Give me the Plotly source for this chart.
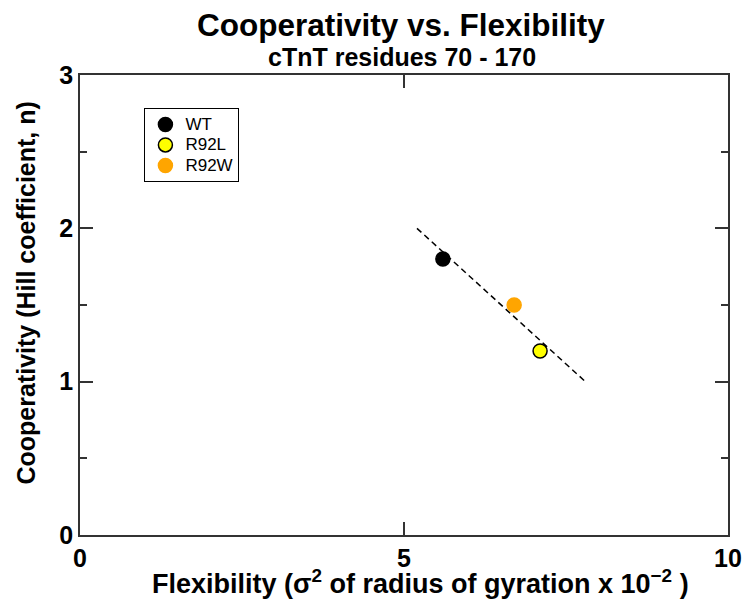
import plotly.graph_objects as go

# Data
series_names = ["WT", "R92L", "R92W"]
flex_x = [5.6, 7.1, 6.7]
coop_y = [1.8, 1.2, 1.5]
fill_colors = ["black", "yellow", "orange"]
edge_colors = ["black", "black", "orange"]

fit_x = [5.2, 7.8]
fit_y = [2.0, 1.0]

x_ticks = [0, 5, 10]
y_ticks = [0, 1, 2, 3]

title_text = "Cooperativity vs. Flexibility"
subtitle_text = "cTnT residues 70 - 170"
x_title = "Flexibility (σ<sup>2</sup> of radius of gyration x 10<sup>−2</sup> )"
y_title = "Cooperativity (Hill coefficient, n)"

FONT = "Liberation Sans, Arial, Helvetica, sans-serif"
AX = "#333"

fig = go.Figure()

fig.add_trace(go.Scatter(
    x=fit_x, y=fit_y, mode="lines",
    line=dict(color="black", width=1.5, dash="6px,4px"),
    showlegend=False, hoverinfo="skip"))

for name, x, y, fc, ec in zip(series_names, flex_x, coop_y, fill_colors, edge_colors):
    fig.add_trace(go.Scatter(
        x=[x], y=[y], mode="markers",
        name="<span style='font-size:17px'>" + name + "</span>",
        marker=dict(size=14, color=fc, line=dict(color=ec, width=1.5))))

# page has an 8px body margin: figure is shifted by 8px
W, H = 746, 597
ML, MT, MR, MB = 72, 67, 20, 70

fig.update_layout(
    width=W, height=H,
    margin=dict(l=ML, r=MR, t=MT, b=MB),
    paper_bgcolor="white", plot_bgcolor="white",
    font=dict(family=FONT, color="black"),
    legend=dict(
        x=0.0994, y=0.928, xanchor="left", yanchor="top",
        bordercolor="black", borderwidth=1, bgcolor="white",
        font=dict(size=13.5, family=FONT),
        tracegroupgap=0),
    showlegend=True,
)

fig.add_annotation(text="<b>" + title_text + "</b>", xref="paper", yref="paper",
                   x=0.496, y=1.109, xanchor="center", yanchor="middle",
                   showarrow=False, font=dict(size=31.5, family=FONT))
fig.add_annotation(text="<b>" + subtitle_text + "</b>", xref="paper", yref="paper",
                   x=0.497, y=1.040, xanchor="center", yanchor="middle",
                   showarrow=False, font=dict(size=25, family=FONT))
fig.add_annotation(text="<b>" + x_title + "</b>", xref="paper", yref="paper",
                   x=0.525, y=-0.102, xanchor="center", yanchor="middle",
                   showarrow=False, font=dict(size=27, family=FONT))
fig.add_annotation(text="<b>" + y_title + "</b>", xref="paper", yref="paper",
                   x=-0.0826, y=0.526, xanchor="center", yanchor="middle",
                   textangle=-90, showarrow=False, font=dict(size=25, family=FONT))

fig.update_xaxes(
    range=[0, 10], tickvals=x_ticks, ticktext=[str(v) for v in x_ticks],
    ticks="inside", ticklen=13, tickwidth=1.5, tickcolor=AX,
    showline=True, linecolor=AX, linewidth=1.5, mirror="ticks",
    showgrid=False, zeroline=False,
    tickfont=dict(size=25, family=FONT, weight="bold"),
)
fig.update_yaxes(
    range=[0, 3], tickvals=y_ticks, ticktext=[str(v) for v in y_ticks],
    ticks="inside", ticklen=13, tickwidth=1.5, tickcolor=AX,
    minor=dict(dtick=0.5, ticks="inside", ticklen=7, tickwidth=1.5, tickcolor=AX, showgrid=False),
    showline=True, linecolor=AX, linewidth=1.5, mirror="ticks",
    showgrid=False, zeroline=False,
    tickfont=dict(size=25, family=FONT, weight="bold"),
)

fig.write_html("out.html")
